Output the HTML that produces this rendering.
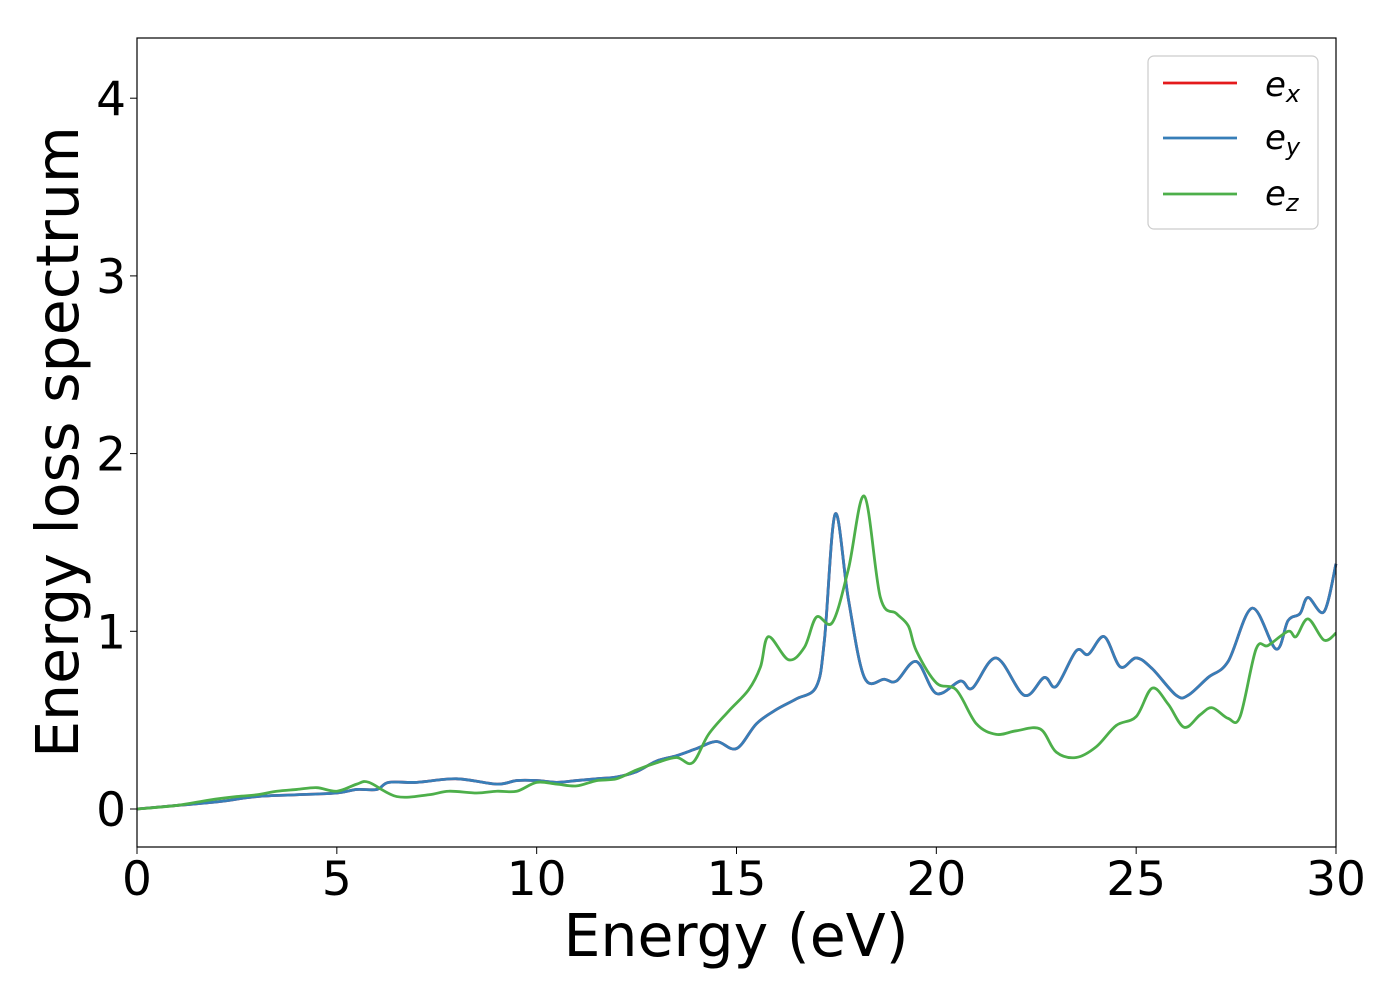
<!DOCTYPE html>
<html><head><meta charset="utf-8"><style>
html,body{margin:0;padding:0;background:#fff;}
svg{display:block;font-family:"DejaVu Sans","Liberation Sans",sans-serif;}
</style></head><body>
<svg id="chart" width="1400" height="1000" viewBox="0 0 1400 1000">
<rect x="0" y="0" width="1400" height="1000" fill="#fff"/>
<g id="plot"></g>
<rect x="137" y="38" width="1199" height="809" fill="none" stroke="#000" stroke-width="1.2"/>
<g id="xticks"></g>
<g id="yticks"></g>
<text x="736" y="956" font-size="58.5" text-anchor="middle">Energy (eV)</text>
<text transform="translate(78,442) rotate(-90)" font-size="58.5" text-anchor="middle">Energy loss spectrum</text>
<g>
<rect x="1148" y="56" width="170" height="173" rx="6" fill="#fff" stroke="#ccc" stroke-width="1.2"/>
<g><line x1="1163" y1="83" x2="1237" y2="83" stroke="#e41a1c" stroke-width="2.8"/><text x="1265" y="96" font-size="34" font-style="italic">e<tspan font-size="24" dy="6">x</tspan></text></g>
<g><line x1="1163" y1="138" x2="1237" y2="138" stroke="#377eb8" stroke-width="2.8"/><text x="1265" y="149" font-size="34" font-style="italic">e<tspan font-size="24" dy="6">y</tspan></text></g>
<g><line x1="1163" y1="194" x2="1237" y2="194" stroke="#4daf4a" stroke-width="2.8"/><text x="1265" y="205" font-size="34" font-style="italic">e<tspan font-size="24" dy="6">z</tspan></text></g>
</g>
</svg>
<script>
const xTicks=[0,5,10,15,20,25,30];
const yTicks=[0,1,2,3,4];
const eyE=[0,1,2,3,4,5,5.5,6,6.3,7,8,9,9.5,10,10.5,11,11.5,12,12.5,13,13.5,14,14.5,15,15.5,16,16.5,17,17.2,17.47,17.8,18.2,18.7,19,19.5,20,20.6,20.9,21.5,22.2,22.7,23,23.5,23.8,24.2,24.6,25,25.4,26,26.3,26.8,27.3,27.9,28.5,28.8,29.1,29.3,29.7,30];
const eyV=[0,0.02,0.04,0.07,0.08,0.09,0.11,0.11,0.15,0.15,0.17,0.14,0.16,0.16,0.15,0.16,0.17,0.18,0.21,0.27,0.30,0.34,0.38,0.34,0.48,0.56,0.62,0.69,0.95,1.66,1.18,0.74,0.73,0.72,0.83,0.65,0.72,0.68,0.85,0.64,0.74,0.69,0.89,0.87,0.97,0.80,0.85,0.79,0.64,0.64,0.74,0.83,1.13,0.90,1.06,1.10,1.19,1.11,1.38];
const ezE=[0,1,1.8,2.5,3,3.5,4,4.5,5,5.5,5.8,6.5,7.3,7.8,8.5,9,9.5,10,10.5,11,11.5,12,12.5,13,13.5,13.9,14.3,14.8,15.3,15.6,15.8,16.3,16.7,17,17.4,17.8,18.2,18.6,19,19.3,19.5,20,20.5,21,21.5,22,22.6,23,23.5,24,24.5,25,25.4,25.8,26.2,26.6,26.9,27.3,27.6,28,28.3,28.8,29,29.3,29.7,30];
const ezV=[0,0.02,0.05,0.07,0.08,0.10,0.11,0.12,0.10,0.14,0.15,0.07,0.08,0.10,0.09,0.10,0.10,0.15,0.14,0.13,0.16,0.17,0.22,0.26,0.29,0.26,0.42,0.55,0.67,0.80,0.97,0.84,0.91,1.08,1.05,1.35,1.76,1.19,1.10,1.03,0.89,0.71,0.67,0.48,0.42,0.44,0.45,0.32,0.29,0.35,0.47,0.52,0.68,0.59,0.46,0.53,0.57,0.51,0.52,0.90,0.92,1.00,0.97,1.07,0.95,0.99];
const X=e=>137+e*(1199/30);
const Y=v=>809-v*177.7;
const NS='http://www.w3.org/2000/svg';
function pathD(xs,ys){
  const p=xs.map((x,i)=>[X(x),Y(ys[i])]);
  let d='M'+p[0][0]+','+p[0][1];
  for(let i=0;i<p.length-1;i++){
    const p0=p[Math.max(0,i-1)],p1=p[i],p2=p[i+1],p3=p[Math.min(p.length-1,i+2)];
    const c1=[p1[0]+(p2[0]-p0[0])/6,p1[1]+(p2[1]-p0[1])/6];
    const c2=[p2[0]-(p3[0]-p1[0])/6,p2[1]-(p3[1]-p1[1])/6];
    d+=' C'+c1+' '+c2+' '+p2;
  }
  return d;
}
const plot=document.getElementById('plot');
function addLine(xs,ys,color,name){
  const el=document.createElementNS(NS,'path');
  el.setAttribute('d',pathD(xs,ys));
  el.setAttribute('fill','none');
  el.setAttribute('stroke',color);
  el.setAttribute('stroke-width','2.8');
  
  
  plot.appendChild(el);
}
addLine(eyE,eyV,'#e41a1c','series-ex-line');
addLine(eyE,eyV,'#377eb8','series-ey-line');
addLine(ezE,ezV,'#4daf4a','series-ez-line');
const xg=document.getElementById('xticks');
xTicks.forEach(t=>{
  const l=document.createElementNS(NS,'line');
  l.setAttribute('x1',X(t));l.setAttribute('x2',X(t));l.setAttribute('y1',847);l.setAttribute('y2',854);
  l.setAttribute('stroke','#000');
  
  
  xg.appendChild(l);
  const tx=document.createElementNS(NS,'text');
  tx.setAttribute('x',X(t));tx.setAttribute('y',895);tx.setAttribute('font-size','47');tx.setAttribute('text-anchor','middle');
  tx.textContent=t;
  
  
  xg.appendChild(tx);
});
const yg=document.getElementById('yticks');
yTicks.forEach(t=>{
  const l=document.createElementNS(NS,'line');
  l.setAttribute('x1',130);l.setAttribute('x2',137);l.setAttribute('y1',Y(t));l.setAttribute('y2',Y(t));
  l.setAttribute('stroke','#000');
  
  
  yg.appendChild(l);
  const tx=document.createElementNS(NS,'text');
  tx.setAttribute('x',126);tx.setAttribute('y',Y(t)+17);tx.setAttribute('font-size','47');tx.setAttribute('text-anchor','end');
  tx.textContent=t;
  
  
  yg.appendChild(tx);
});
</script>
</body></html>
